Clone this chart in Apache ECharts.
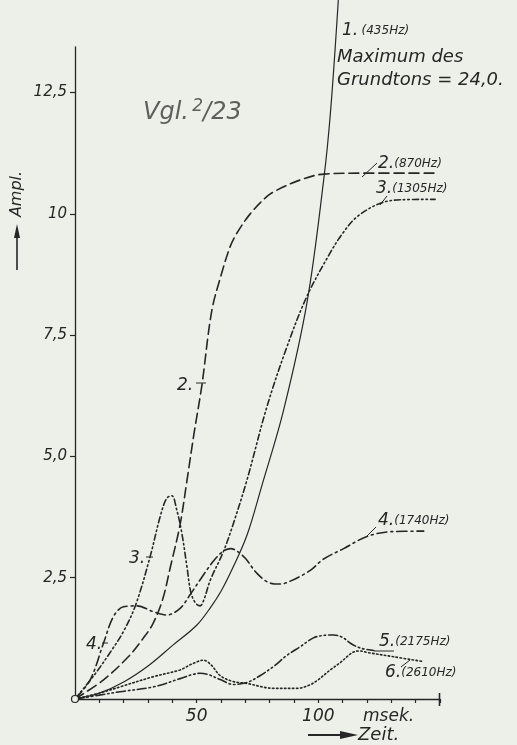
<!DOCTYPE html>
<html><head><meta charset="utf-8">
<script src="https://cdn.jsdelivr.net/npm/echarts@6/dist/echarts.min.js"></script>
<style>html,body{margin:0;padding:0;background:#edf0e9}#c{width:517px;height:745px}</style>
</head><body><div id="c"></div>
<script>
// Time axis (msek.) and amplitude values
const t1 = [0,10,20,30,40,50,55.6,60,65,70.7,76.8,85.7,95.3,102.2,105,108.2];
const a1 = [0,0.12,0.35,0.68,1.1,1.52,1.88,2.22,2.72,3.38,4.4,5.95,8.16,10.7,12.1,14.4];

const t2 = [0,11.6,21.9,28,32,36,39.1,43.2,46,49,52.1,56.2,60.3,63.8,66.5,72,78.9,83,92.6,102.2,120,147.5];
const a2 = [0,0.39,0.87,1.25,1.55,2.05,2.7,3.6,4.5,5.5,6.45,8.0,8.78,9.33,9.6,10.0,10.36,10.49,10.7,10.82,10.84,10.84];

const t3 = [0,8,15,20,25,30.9,35,37.7,39.8,41.8,43.9,46,47.6,49.5,51.4,53,55.6,61,65.1,70.7,78.9,87.1,95.3,104.9,110,115.9,125.5,133.7,148];
const a3 = [0,0.5,1.0,1.4,1.95,2.94,3.76,4.14,4.19,3.9,3.42,2.73,2.2,1.98,1.92,2.05,2.45,3.04,3.62,4.52,6.03,7.26,8.3,9.2,9.6,9.94,10.22,10.29,10.3];

const t4 = [0,6.2,11.7,15.8,19.9,25.4,32.2,37.7,43.2,47.3,52,57,61,64,66.5,70,74.8,80.2,84.4,88.5,96.7,102,110.4,120,130,143.3];
const a4 = [0,0.39,1.15,1.7,1.9,1.92,1.8,1.73,1.87,2.15,2.5,2.85,3.05,3.1,3.05,2.9,2.59,2.39,2.37,2.43,2.65,2.88,3.1,3.35,3.45,3.46];

const t5 = [0,10,18.5,32.2,43.2,48,51.4,55,59.7,65.1,70.7,76,81.6,87.1,92.6,98,102,106.3,110,113.2,117.3,122.8];
const a5 = [0,0.08,0.15,0.25,0.42,0.5,0.53,0.5,0.4,0.3,0.34,0.48,0.67,0.9,1.08,1.26,1.31,1.32,1.27,1.15,1.05,1.0];

const t6 = [0,10,18.5,32.2,43.2,48,52.8,56,59.7,65,70.7,81.6,91.2,96,99.5,104.9,109,114.5,117.3,120,131,143.3];
const a6 = [0,0.12,0.25,0.46,0.6,0.72,0.8,0.7,0.48,0.36,0.32,0.22,0.22,0.28,0.38,0.6,0.75,0.97,0.99,0.96,0.87,0.77];

const yTicks = [2.5,5,7.5,10,12.5];
const yTickLabels = ['2,5','5,0','7,5','10','12,5'];
const xLabelValues = [50,100];

const INK = '#262626';
const FONT = '"DejaVu Sans"';
const pairs = (t,a) => t.map((x,i)=>[x,a[i]]);

const chart = echarts.init(document.getElementById('c'));
function mkSeries(name, t, a, type, width, clip){
  return {name, type:'line', data:pairs(t,a), showSymbol:false, symbol:'none', smooth:0.35,
    clip: clip, lineStyle:{color:INK, width:width, type:type, cap:'round'}, z:3};
}
const txt = (text, x, y, size, opts={}) => Object.assign({type:'text', x, y, z:10, style:Object.assign({text, x:0, y:0, fill:INK,
  font:'italic '+size+'px '+FONT, align:'left', verticalAlign:'middle'}, opts.style||{})}, opts.el||{});
const ln = (x1,y1,x2,y2,w,color) => ({type:'line', z:10, shape:{x1,y1,x2,y2}, style:{stroke:color||INK, lineWidth:w||1}});

chart.setOption({
  animation:false,
  backgroundColor:'#edf0e9',
  grid:{left:75, right:77, top:47, bottom:46},
  xAxis:{type:'value', min:0, max:150, interval:10,
    axisLine:{show:true, lineStyle:{color:INK, width:1.3}},
    axisTick:{show:true, length:4, lineStyle:{color:INK, width:1.2}},
    axisLabel:{customValues:xLabelValues, formatter:v=>String(v), color:INK, fontStyle:'italic', fontFamily:'DejaVu Sans', fontSize:17, margin:9},
    splitLine:{show:false}},
  yAxis:{type:'value', min:0, max:13.44,
    axisLine:{show:true, lineStyle:{color:INK, width:1.3}},
    axisTick:{show:true, length:5, customValues:yTicks, lineStyle:{color:INK, width:1.2}},
    axisLabel:{customValues:yTicks, formatter:v=>{const i=yTicks.indexOf(v); return i>=0?yTickLabels[i]:'';}, color:INK, fontStyle:'italic', fontFamily:'DejaVu Sans', fontSize:15, margin:8},
    splitLine:{show:false}},
  series:[
    mkSeries('1. (435Hz)', t1, a1, 'solid', 1.2, false),
    mkSeries('2. (870Hz)', t2, a2, [10,5], 1.6, true),
    mkSeries('3. (1305Hz)', t3, a3, [6,3,1.5,3,1.5,3], 1.6, true),
    mkSeries('4. (1740Hz)', t4, a4, [10,4,2,4], 1.6, true),
    mkSeries('5. (2175Hz)', t5, a5, [9,3,1.5,3,1.5,3], 1.6, true),
    mkSeries('6. (2610Hz)', t6, a6, [1.5,2.5], 1.6, true)
  ],
  graphic:[
    {type:'circle', z:10, shape:{cx:75, cy:699, r:3.5}, style:{fill:'#edf0e9', stroke:INK, lineWidth:1.2}},
    ln(439.5,693,439.5,706,1.6),
    // curve labels
    {type:'text', x:342, y:31, z:10, style:{text:'{a|1.} {b|(435Hz)}', fill:INK, verticalAlign:'middle',
      rich:{a:{font:'italic 17px '+FONT, fill:INK}, b:{font:'italic 12px '+FONT, fill:INK}}}},
    txt('Maximum des', 337, 57, 18),
    txt('Grundtons = 24,0.', 337, 80, 18),
    {type:'text', x:378, y:164, z:10, style:{text:'{a|2.}{b|(870Hz)}', fill:INK, verticalAlign:'middle',
      rich:{a:{font:'italic 17px '+FONT, fill:INK}, b:{font:'italic 12px '+FONT, fill:INK}}}},
    ln(362,177,377,163),
    {type:'text', x:376, y:189, z:10, style:{text:'{a|3.}{b|(1305Hz)}', fill:INK, verticalAlign:'middle',
      rich:{a:{font:'italic 17px '+FONT, fill:INK}, b:{font:'italic 12px '+FONT, fill:INK}}}},
    ln(380,205,387,196),
    {type:'text', x:378, y:521, z:10, style:{text:'{a|4.}{b|(1740Hz)}', fill:INK, verticalAlign:'middle',
      rich:{a:{font:'italic 17px '+FONT, fill:INK}, b:{font:'italic 12px '+FONT, fill:INK}}}},
    ln(366,537,376,527),
    {type:'text', x:379, y:642, z:10, style:{text:'{a|5.}{b|(2175Hz)}', fill:INK, verticalAlign:'middle',
      rich:{a:{font:'italic 17px '+FONT, fill:INK}, b:{font:'italic 12px '+FONT, fill:INK}}}},
    ln(374,651,394,651),
    {type:'text', x:385, y:673, z:10, style:{text:'{a|6.}{b|(2610Hz)}', fill:INK, verticalAlign:'middle',
      rich:{a:{font:'italic 17px '+FONT, fill:INK}, b:{font:'italic 12px '+FONT, fill:INK}}}},
    ln(401,667,410,660),
    // inline labels
    txt('2.', 177, 386, 17), ln(196,383,206,383),
    txt('3.', 129, 559, 17), ln(146,557,153,557),
    txt('4.', 86, 645, 17), ln(102,643,108,643),
    // handwritten note
    {type:'text', x:143, y:113, z:10, style:{text:'{a|Vgl.} {b|2}{c|/23}', fill:'#5e605c', verticalAlign:'middle',
      rich:{a:{font:'italic 24px '+FONT, fill:'#5e605c'}, b:{font:'italic 17px '+FONT, fill:'#5e605c', verticalAlign:'top', padding:[0,0,12,0]}, c:{font:'italic 24px '+FONT, fill:'#5e605c'}}}},
    // axis names
    txt('msek.', 363, 717, 17),
    txt('Zeit.', 358, 735, 18),
    ln(308,735,346,735,2),
    {type:'polygon', z:10, shape:{points:[[340,731],[358,735],[340,739]]}, style:{fill:INK}},
    {type:'text', x:17, y:194, rotation:Math.PI/2, z:10, style:{text:'Ampl.', x:0, y:0, fill:INK, font:'italic 16px '+FONT, align:'center', verticalAlign:'middle'}},
    ln(17,270,17,230,1.6),
    {type:'polygon', z:10, shape:{points:[[14,238],[17,224],[20,238]]}, style:{fill:INK}}
  ]
});
</script></body></html>
